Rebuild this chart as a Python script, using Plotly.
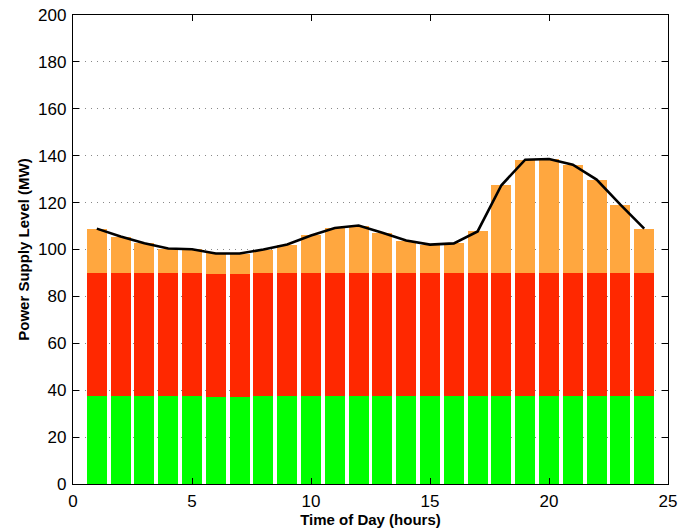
import plotly.graph_objects as go

hours = list(range(1, 25))
green = [37.5, 37.5, 37.5, 37.5, 37.5, 37.3, 37.3, 37.5, 37.5, 37.5, 37.5, 37.5,
         37.5, 37.5, 37.5, 37.5, 37.5, 37.5, 37.5, 37.5, 37.5, 37.5, 37.5, 37.5]
red = [52.6, 52.6, 52.6, 52.6, 52.6, 52.1, 52.4, 52.6, 52.6, 52.6, 52.6, 52.6,
       52.6, 52.6, 52.6, 52.6, 52.6, 52.6, 52.6, 52.6, 52.6, 52.6, 52.6, 52.6]
orange = [18.8, 15.4, 12.6, 10.3, 10.0, 8.9, 8.5, 9.9, 12.0, 15.9, 19.1, 20.1,
          17.0, 13.7, 12.0, 12.5, 17.6, 37.3, 48.2, 48.5, 46.1, 39.7, 29.0, 18.8]
demand = [108.9, 105.5, 102.7, 100.4, 100.1, 98.3, 98.3, 100.0, 102.1, 106.0, 109.2, 110.2,
          107.1, 103.8, 102.1, 102.6, 107.7, 127.4, 138.3, 138.6, 136.2, 129.8, 119.1, 108.9]

x_ticks = [0, 5, 10, 15, 20, 25]
y_ticks = [0, 20, 40, 60, 80, 100, 120, 140, 160, 180, 200]

fig = go.Figure()
for vals, col in [(green, "#00FF00"), (red, "#FF2800"), (orange, "#FFA73F")]:
    fig.add_trace(go.Bar(x=hours, y=vals, marker=dict(color=col, line=dict(width=0)),
                         showlegend=False))
fig.add_trace(go.Scatter(x=hours, y=demand, mode="lines",
                         line=dict(color="black", width=2.6), showlegend=False))

font = "Liberation Sans, Arial, Helvetica, sans-serif"
fig.update_layout(
    width=679, height=529,
    margin=dict(l=73, r=11, t=15, b=45),
    barmode="stack", bargap=0.16,
    paper_bgcolor="white", plot_bgcolor="white",
    font=dict(family=font, size=17, color="black"),
    xaxis=dict(range=[0, 25], tickvals=x_ticks, ticks="inside", ticklen=6,
               tickcolor="black", showline=True, linecolor="black", linewidth=1.3,
               mirror="allticks", showgrid=False, zeroline=False, automargin=False,
               title=dict(text="<b>Time of Day (hours)</b>", font=dict(size=15), standoff=2),
               ticklabelstandoff=1),
    yaxis=dict(range=[0, 200], tickvals=y_ticks, ticks="inside", ticklen=6,
               tickcolor="black", showline=True, linecolor="black", linewidth=1.3,
               mirror="allticks", showgrid=True, gridcolor="#888888", gridwidth=1,
               griddash="1px,5px", zeroline=False, automargin=False,
               title=dict(text="<b>Power Supply Level (MW)</b>", font=dict(size=15), standoff=4),
               ticklabelstandoff=2),
)
fig.write_html("out.html")
